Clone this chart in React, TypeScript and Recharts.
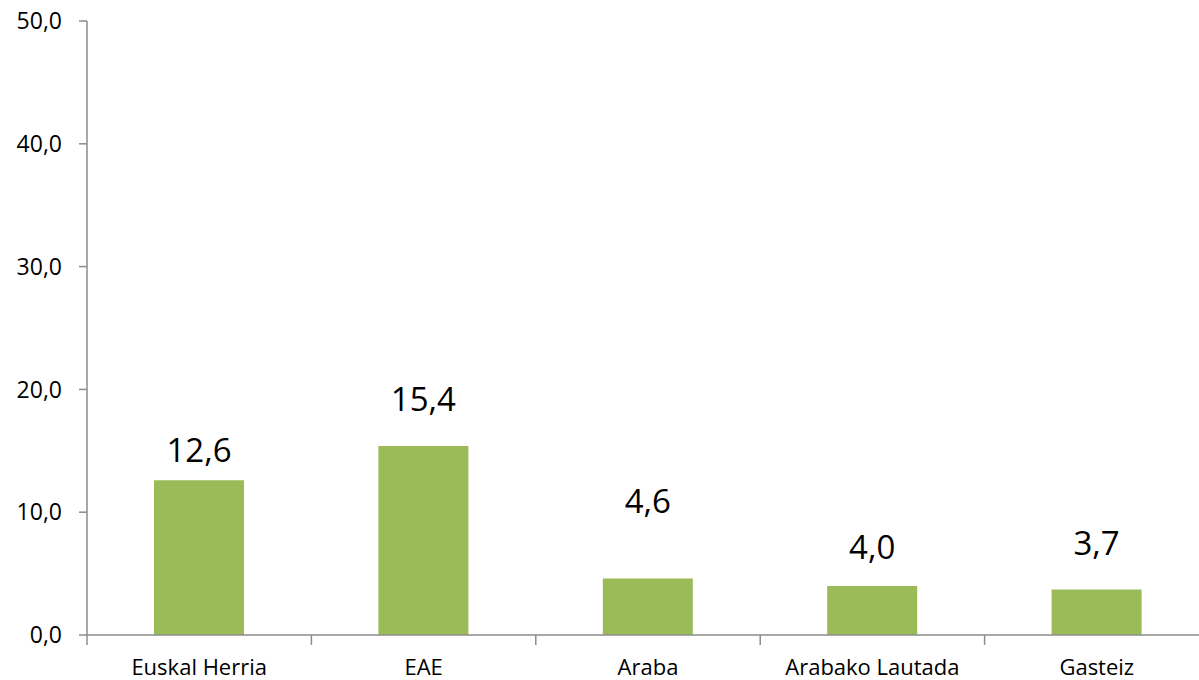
import React from 'react';
import { BarChart, Bar, XAxis, YAxis, LabelList } from 'recharts';

const categories = ['Euskal Herria', 'EAE', 'Araba', 'Arabako Lautada', 'Gasteiz'];
const values = [12.6, 15.4, 4.6, 4.0, 3.7];
const yTicks = [0, 10, 20, 30, 40, 50];

// how far each value label sits above its bar (hand-placed in the original)
const labelLift = [18, 35, 66, 27, 35];

const data = categories.map((name, i) => ({ name, value: values[i] }));

const FONT = '"Open Sans", sans-serif';
const AXIS = '#8c8c8c';
const fmt = (v: number) => v.toFixed(1).replace('.', ',');

const CategoryTick = (props: any) => {
  const { x, y, payload, index, visibleTicksCount } = props;
  const half = payload && payload.offset ? payload.offset : 112;
  const last = index === visibleTicksCount - 1;
  return (
    <g>
      <line x1={x - half} x2={x - half} y1={y} y2={y + 10} stroke={AXIS} strokeWidth={1.5} />
      {last && <line x1={x + half} x2={x + half} y1={y} y2={y + 10} stroke={AXIS} strokeWidth={1.5} />}
      <text x={x} y={y + 40} textAnchor="middle" fontFamily={FONT} fontSize={22} fill="#000">
        {payload.value}
      </text>
    </g>
  );
};

const ValueLabel = (props: any) => {
  const { x, y, width, value, index } = props;
  return (
    <text
      x={x + width / 2}
      y={y - labelLift[index]}
      textAnchor="middle"
      fontFamily={FONT}
      fontSize={33}
      fill="#000"
    >
      {fmt(value)}
    </text>
  );
};

const App: React.FC = () => {
  return (
    <div style={{ width: 1199, height: 680, background: '#fff', overflow: 'hidden' }}>
      <style>{'body{margin:0}'}</style>
      <BarChart width={1209} height={680} data={data} margin={{ top: 21, right: 0, left: 0, bottom: 0 }}>
        <XAxis
          dataKey="name"
          height={45}
          axisLine={{ stroke: AXIS, strokeWidth: 1.5 }}
          tickLine={false}
          tickSize={0}
          tickMargin={0}
          interval={0}
          tick={<CategoryTick />}
        />
        <YAxis
          width={87}
          domain={[0, 50]}
          ticks={yTicks}
          tickFormatter={fmt}
          axisLine={{ stroke: AXIS, strokeWidth: 1.5 }}
          tickLine={{ stroke: AXIS, strokeWidth: 1.5 }}
          tickSize={8}
          tickMargin={17}
          tick={{ fontFamily: FONT, fontSize: 23, fill: '#000' }}
        />
        <Bar dataKey="value" fill="#9bbb59" barSize={90} isAnimationActive={false}>
          <LabelList dataKey="value" content={<ValueLabel />} />
        </Bar>
      </BarChart>
    </div>
  );
};

export default App;
